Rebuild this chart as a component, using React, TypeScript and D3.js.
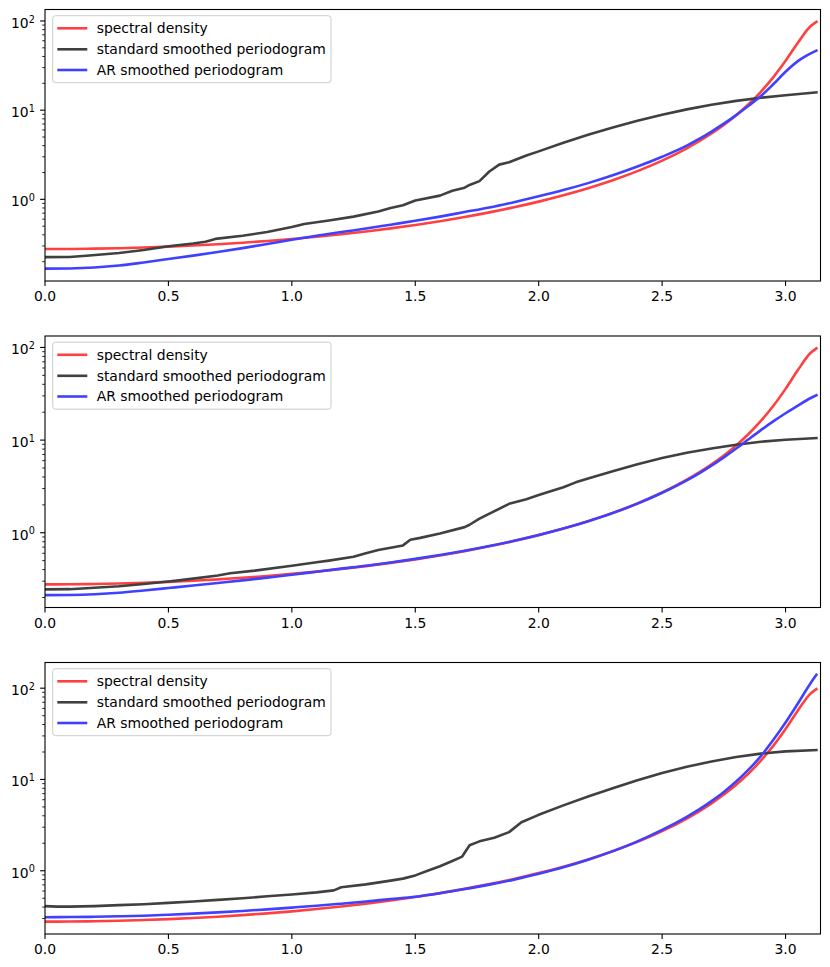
import React from 'react';
import * as d3 from 'd3';

// Frequencies (radians) on which the smooth curves are sampled
const freq = [0, 0.1, 0.2, 0.3, 0.4, 0.5, 0.6, 0.7, 0.8, 0.9, 1.0, 1.1, 1.2, 1.3, 1.4, 1.5, 1.6, 1.7, 1.8, 1.9, 2.0, 2.1, 2.2, 2.3, 2.4, 2.5, 2.6, 2.65, 2.7, 2.75, 2.8, 2.85, 2.9, 2.95, 3.0, 3.05, 3.1, 3.125];

// Spectral density (same in all three panels)
const spectralDensity = [0.277, 0.2777, 0.2798, 0.2833, 0.2884, 0.295, 0.3034, 0.3138, 0.3264, 0.3414, 0.3594, 0.3807, 0.4061, 0.4364, 0.4726, 0.5162, 0.569, 0.6336, 0.7138, 0.8143, 0.9425, 1.1095, 1.332, 1.6375, 2.072, 2.717, 3.737, 4.482, 5.477, 6.835, 8.772, 11.63, 16.08, 23.31, 35.71, 57.0, 86.6, 97.8];

// AR smoothed periodograms
const arSmoothed1 = [0.167, 0.168, 0.172, 0.181, 0.196, 0.214, 0.234, 0.257, 0.284, 0.316, 0.352, 0.39, 0.43, 0.47, 0.52, 0.575, 0.64, 0.72, 0.81, 0.93, 1.08, 1.27, 1.52, 1.86, 2.33, 3.0, 4.0, 4.75, 5.75, 7.05, 8.8, 11.2, 14.4, 19.5, 27, 35.5, 43, 46.5];
const arSmoothed2 = [0.212, 0.213, 0.217, 0.225, 0.238, 0.253, 0.269, 0.287, 0.306, 0.328, 0.352, 0.38, 0.41, 0.44, 0.478, 0.522, 0.574, 0.638, 0.718, 0.818, 0.945, 1.11, 1.33, 1.63, 2.06, 2.7, 3.68, 4.38, 5.3, 6.5, 8.1, 10.2, 12.8, 15.9, 19.5, 23.5, 28.3, 30.5];
const arSmoothed3 = [0.31, 0.311, 0.313, 0.317, 0.322, 0.33, 0.339, 0.35, 0.363, 0.378, 0.395, 0.414, 0.436, 0.46, 0.49, 0.52, 0.568, 0.63, 0.705, 0.8, 0.925, 1.09, 1.32, 1.64, 2.1, 2.8, 3.9, 4.7, 5.8, 7.3, 9.5, 12.8, 18, 27, 42, 68, 112, 140];

// Standard smoothed periodograms (own frequency samples, to keep their kinks)
const stdFreq1 = [0, 0.1, 0.18, 0.3, 0.4, 0.5, 0.6, 0.65, 0.69, 0.8, 0.9, 1.0, 1.05, 1.15, 1.25, 1.35, 1.4, 1.45, 1.5, 1.6, 1.65, 1.7, 1.72, 1.76, 1.8, 1.84, 1.88, 1.95, 2.0, 2.1, 2.2, 2.3, 2.4, 2.5, 2.6, 2.7, 2.8, 2.9, 3.0, 3.125];
const stdSmoothed1 = [0.225, 0.226, 0.235, 0.25, 0.27, 0.298, 0.32, 0.335, 0.36, 0.39, 0.43, 0.49, 0.53, 0.58, 0.64, 0.73, 0.8, 0.86, 0.97, 1.1, 1.25, 1.35, 1.45, 1.6, 2.05, 2.45, 2.6, 3.1, 3.45, 4.3, 5.3, 6.4, 7.6, 8.9, 10.2, 11.5, 12.7, 13.8, 14.7, 15.8];
const stdFreq2 = [0, 0.1, 0.15, 0.3, 0.4, 0.5, 0.6, 0.7, 0.75, 0.85, 1.0, 1.1, 1.15, 1.25, 1.3, 1.35, 1.45, 1.48, 1.52, 1.6, 1.7, 1.72, 1.76, 1.88, 1.95, 2.0, 2.1, 2.15, 2.2, 2.3, 2.4, 2.5, 2.6, 2.7, 2.8, 2.9, 3.0, 3.125];
const stdSmoothed2 = [0.245, 0.246, 0.25, 0.265, 0.28, 0.298, 0.32, 0.345, 0.365, 0.39, 0.44, 0.48, 0.5, 0.55, 0.6, 0.65, 0.73, 0.84, 0.88, 0.98, 1.15, 1.22, 1.42, 2.05, 2.3, 2.55, 3.1, 3.5, 3.85, 4.6, 5.5, 6.4, 7.3, 8.1, 8.9, 9.6, 10.1, 10.5];
const stdFreq3 = [0, 0.05, 0.1, 0.2, 0.3, 0.4, 0.5, 0.6, 0.7, 0.8, 0.9, 1.0, 1.1, 1.17, 1.2, 1.3, 1.4, 1.45, 1.5, 1.55, 1.6, 1.65, 1.69, 1.72, 1.76, 1.82, 1.88, 1.93, 2.0, 2.1, 2.2, 2.3, 2.4, 2.5, 2.6, 2.7, 2.8, 2.9, 3.0, 3.125];
const stdSmoothed3 = [0.41, 0.405, 0.405, 0.41, 0.42, 0.43, 0.445, 0.46, 0.48, 0.5, 0.525, 0.55, 0.58, 0.61, 0.66, 0.71, 0.78, 0.82, 0.89, 1.0, 1.12, 1.28, 1.43, 1.9, 2.1, 2.3, 2.65, 3.4, 4.1, 5.2, 6.5, 8.0, 9.8, 11.8, 13.8, 15.7, 17.6, 19.2, 20.3, 21.0];

const legendLabels = ['spectral density', 'standard smoothed periodogram', 'AR smoothed periodogram'];
const seriesColors = ['rgb(255,64,64)', 'rgb(64,64,64)', 'rgb(64,64,255)'];
const xTickValues = [0, 0.5, 1.0, 1.5, 2.0, 2.5, 3.0];

const panels = [
  { ar: arSmoothed1, stdX: stdFreq1, std: stdSmoothed1 },
  { ar: arSmoothed2, stdX: stdFreq2, std: stdSmoothed2 },
  { ar: arSmoothed3, stdX: stdFreq3, std: stdSmoothed3 },
];

const W = 830;
const H = 967;
const AX_LEFT = 45;
const AX_RIGHT = 820.5;
const AX_TOPS = [9.5, 336, 662.5];
const AX_H = 271.5;
const FONT = 'DejaVu Sans, Verdana, sans-serif';
const FS = 13.9;
const LW = 2.6;

function Panel({ idx }: { idx: number }) {
  const p = panels[idx];
  const top = AX_TOPS[idx];
  const bottom = top + AX_H;
  const x = d3.scaleLinear().domain([0, Math.PI]).range([AX_LEFT, AX_RIGHT]);
  const all = [...spectralDensity, ...p.ar, ...p.std];
  const lo = Math.log10(d3.min(all) as number);
  const hi = Math.log10(d3.max(all) as number);
  const pad = 0.05 * (hi - lo);
  const y = d3.scaleLog().domain([Math.pow(10, lo - pad), Math.pow(10, hi + pad)]).range([bottom, top]);

  const smooth = d3.line<[number, number]>().x(d => x(d[0])).y(d => y(d[1])).curve(d3.curveMonotoneX);
  const straight = d3.line<[number, number]>().x(d => x(d[0])).y(d => y(d[1]));

  const redPts = freq.map((f, i) => [f, spectralDensity[i]] as [number, number]);
  const bluePts = freq.map((f, i) => [f, p.ar[i]] as [number, number]);
  const blackPts = p.stdX.map((f, i) => [f, p.std[i]] as [number, number]);

  const [d0, d1] = y.domain();
  const majors: number[] = [];
  const minors: number[] = [];
  for (let k = Math.floor(Math.log10(d0)); k <= Math.ceil(Math.log10(d1)); k++) {
    for (let j = 1; j <= 9; j++) {
      const v = j * Math.pow(10, k);
      if (v >= d0 && v <= d1) (j === 1 ? majors : minors).push(v);
    }
  }

  const clipId = `clip${idx}`;
  const lx = AX_LEFT + 7.7;
  const ly = top + 6.2;
  const rows = [12.6, 33.6, 54.3];

  return (
    <g>
      <defs>
        <clipPath id={clipId}>
          <rect x={AX_LEFT} y={top} width={AX_RIGHT - AX_LEFT} height={AX_H} />
        </clipPath>
      </defs>
      <g clipPath={`url(#${clipId})`} fill="none" strokeWidth={LW} strokeLinejoin="round" strokeLinecap="square">
        <path d={smooth(redPts) as string} stroke={seriesColors[0]} />
        <path d={straight(blackPts) as string} stroke={seriesColors[1]} />
        <path d={smooth(bluePts) as string} stroke={seriesColors[2]} />
      </g>
      {minors.map((v, i) => (
        <line key={`mn${i}`} x1={AX_LEFT} x2={AX_LEFT - 2.8} y1={y(v)} y2={y(v)} stroke="#000" strokeWidth={0.83} />
      ))}
      {majors.map((v, i) => {
        const k = Math.round(Math.log10(v));
        const yy = y(v);
        return (
          <g key={`mj${i}`}>
            <line x1={AX_LEFT} x2={AX_LEFT - 4.9} y1={yy} y2={yy} stroke="#000" strokeWidth={1.1} />
            <text x={AX_LEFT - 10.2} y={yy + 7} textAnchor="end" fontFamily={FONT} fontSize={FS} fill="#000">
              10<tspan dy={-5.3} fontSize={9.7}>{k < 0 ? `\u2212${-k}` : `${k}`}</tspan>
            </text>
          </g>
        );
      })}
      {xTickValues.map((v, i) => (
        <g key={`xt${i}`}>
          <line x1={x(v)} x2={x(v)} y1={bottom} y2={bottom + 4.9} stroke="#000" strokeWidth={1.1} />
          <text x={x(v)} y={bottom + 20} textAnchor="middle" fontFamily={FONT} fontSize={FS} fill="#000">
            {v.toFixed(1)}
          </text>
        </g>
      ))}
      <rect x={AX_LEFT} y={top} width={AX_RIGHT - AX_LEFT} height={AX_H} fill="none" stroke="#000" strokeWidth={1.1} />
      <rect x={lx} y={ly} width={278.3} height={67} rx={2.8} ry={2.8} fill="rgba(255,255,255,0.8)" stroke="#cccccc" strokeWidth={1} />
      {legendLabels.map((lab, i) => (
        <g key={`lg${i}`}>
          <line x1={lx + 4.6} x2={lx + 34.6} y1={ly + rows[i]} y2={ly + rows[i]} stroke={seriesColors[i]} strokeWidth={LW} />
          <text x={lx + 44} y={ly + rows[i] + 4.9} fontFamily={FONT} fontSize={FS} fill="#000">{lab}</text>
        </g>
      ))}
    </g>
  );
}

export default function App() {
  return (
    <svg width={W} height={H} viewBox={`0 0 ${W} ${H}`} style={{ position: 'absolute', left: 0, top: 0, background: '#fff' }}>
      <rect x={0} y={0} width={W} height={H} fill="#fff" />
      {panels.map((_, i) => <Panel key={i} idx={i} />)}
    </svg>
  );
}
